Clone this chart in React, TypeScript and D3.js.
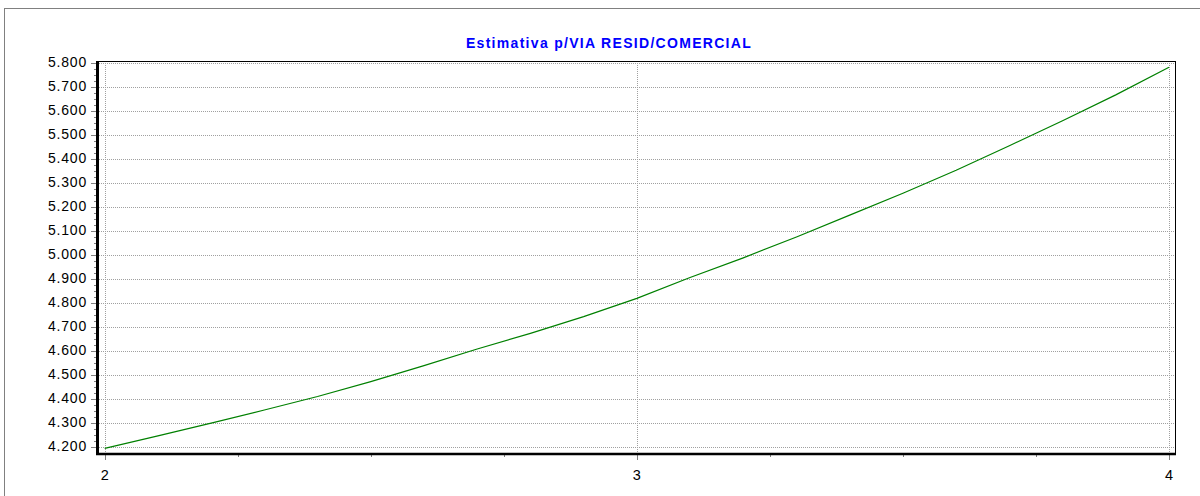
import React from 'react';
import * as d3 from 'd3';

const title = 'Estimativa p/VIA RESID/COMERCIAL';

// x values (estimate inputs) and y estimates
const xValues = [2.0, 2.1, 2.2, 2.3, 2.4, 2.5, 2.6, 2.7, 2.8, 2.9, 3.0, 3.1, 3.2, 3.3, 3.4, 3.5, 3.6, 3.7, 3.8, 3.9, 4.0];
const yValues = [4.193, 4.245, 4.298, 4.353, 4.409, 4.471, 4.538, 4.607, 4.672, 4.742, 4.818, 4.905, 4.987, 5.074, 5.165, 5.256, 5.352, 5.454, 5.558, 5.666, 5.781];

const xTicks = [2, 3, 4];
const xMinorTicks = [2.25, 2.5, 2.75, 3.25, 3.5, 3.75];
const yTicks = d3.range(42, 59).map((d) => d / 10);
const yMinorTicks = d3.range(168, 233).map((d) => d / 40);

const W = 1200;
const H = 496;
const plot = { left: 97, top: 61, right: 1175, bottom: 454 };

export default function App() {
  const x = d3.scaleLinear().domain([2, 4]).range([104.7, 1169]);
  const y = d3.scaleLinear().domain([4.2, 5.8]).range([446.7, 62.7]);
  const fmt = d3.format('.3f');

  const data = xValues.map((v, i) => ({ x: v, y: yValues[i] }));
  const line = d3
    .line<{ x: number; y: number }>()
    .x((d) => x(d.x))
    .y((d) => y(d.y));

  const font = '"Liberation Sans", Arial, sans-serif';

  return (
    <svg
      width={W}
      height={H}
      style={{ position: 'absolute', left: 0, top: 0, background: '#fff' }}
    >
      {/* outer frame */}
      <rect x={4.5} y={8.5} width={1300} height={600} fill="#fff" stroke="#808080" />

      <text
        x={609}
        y={48}
        textAnchor="middle"
        fill="#0000ff"
        fontFamily={font}
        fontWeight="bold"
        fontSize={14}
        letterSpacing={1.3}
      >
        {title}
      </text>

      {/* grid */}
      {yTicks.map((t) => (
        <line
          key={'gy' + t}
          x1={plot.left}
          x2={plot.right}
          y1={Math.round(y(t)) + 0.5}
          y2={Math.round(y(t)) + 0.5}
          stroke="#a0a0a0"
          strokeDasharray="1,1"
        />
      ))}
      {xTicks.map((t) => (
        <line
          key={'gx' + t}
          x1={Math.round(x(t)) + 0.5}
          x2={Math.round(x(t)) + 0.5}
          y1={plot.top}
          y2={plot.bottom}
          stroke="#a0a0a0"
          strokeDasharray="1,1"
        />
      ))}

      {/* plot border */}
      <line x1={plot.left} x2={plot.right} y1={plot.top + 0.5} y2={plot.top + 0.5} stroke="#000" />
      <line x1={plot.right + 0.5} x2={plot.right + 0.5} y1={plot.top} y2={plot.bottom} stroke="#000" />

      {/* series */}
      <path d={line(data) || ''} fill="none" stroke="#008000" strokeWidth={1.2} />

      {/* y axis */}
      {yMinorTicks.map((t) => (
        <line
          key={'my' + t}
          x1={plot.left - 3}
          x2={plot.left}
          y1={Math.round(y(t)) + 0.5}
          y2={Math.round(y(t)) + 0.5}
          stroke="#808080"
        />
      ))}
      {yTicks.map((t) => (
        <g key={'ty' + t}>
          <line
            x1={plot.left - 6}
            x2={plot.left}
            y1={Math.round(y(t)) + 0.5}
            y2={Math.round(y(t)) + 0.5}
            stroke="#808080"
          />
          <text
            x={87}
            y={y(t) + 1}
            textAnchor="end"
            dominantBaseline="middle"
            fontFamily={font}
            fontSize={14}
            letterSpacing={0.8}
            fill="#000"
          >
            {fmt(t)}
          </text>
        </g>
      ))}
      <line x1={plot.left + 0.5} x2={plot.left + 0.5} y1={plot.top} y2={plot.bottom + 1} stroke="#000" strokeWidth={3} />

      {/* x axis */}
      {xMinorTicks.map((t) => (
        <line
          key={'mx' + t}
          x1={Math.round(x(t)) + 0.5}
          x2={Math.round(x(t)) + 0.5}
          y1={plot.bottom}
          y2={plot.bottom + 3}
          stroke="#808080"
        />
      ))}
      {xTicks.map((t) => (
        <g key={'tx' + t}>
          <line
            x1={Math.round(x(t)) + 0.5}
            x2={Math.round(x(t)) + 0.5}
            y1={plot.bottom}
            y2={plot.bottom + 6}
            stroke="#808080"
          />
          <text
            x={x(t)}
            y={479.5}
            textAnchor="middle"
            fontFamily={font}
            fontSize={14.5}
            fill="#000"
          >
            {t}
          </text>
        </g>
      ))}
      <line x1={plot.left - 1} x2={plot.right + 1} y1={plot.bottom} y2={plot.bottom} stroke="#000" strokeWidth={2.5} />
    </svg>
  );
}
